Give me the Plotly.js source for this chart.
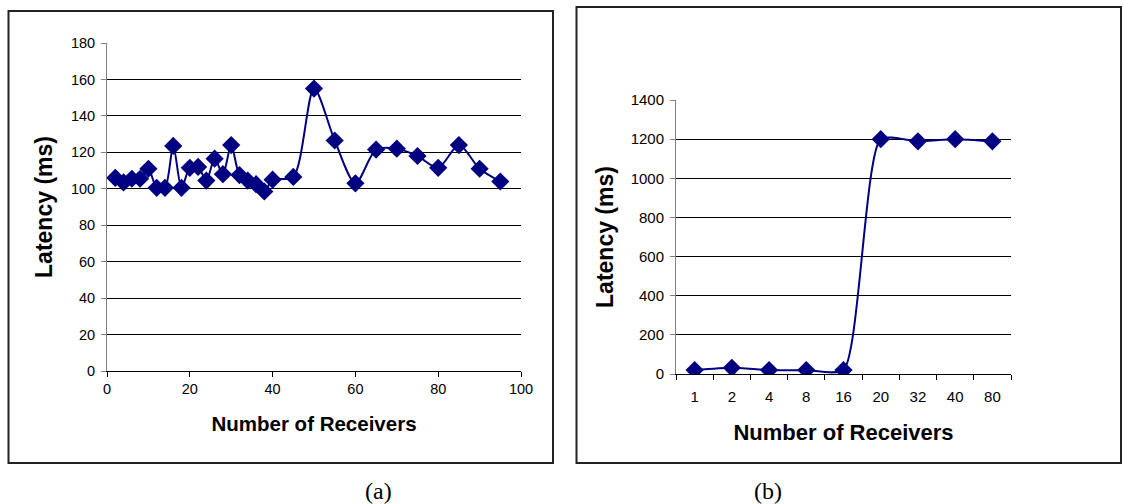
<!DOCTYPE html>
<html>
<head>
<meta charset="utf-8">
<script src="https://cdn.plot.ly/plotly-3.0.1.min.js"></script>
<style>
  html, body { margin: 0; padding: 0; background: #fff; }
  #chart { width: 1124px; height: 504px; }
</style>
</head>
<body>
<div id="chart"></div>
<script>
// Panel (a): latency vs number of receivers (numeric x)
const receiversA = [2, 4, 6, 8, 10, 12, 14, 16, 18, 20, 22, 24, 26, 28, 30, 32, 34, 36, 38, 40, 45, 50, 55, 60, 65, 70, 75, 80, 85, 90, 95];
const latencyA   = [106, 103.5, 105.5, 105.5, 111, 100.5, 100.5, 123.5, 100.5, 111.5, 112, 104.5, 116.5, 108, 124, 107.5, 104.5, 102.5, 98.5, 105, 106.5, 155, 126.5, 103, 121.5, 122, 118, 111.5, 124, 111, 104];

// Panel (b): latency vs number of receivers (category x)
const receiversB = ["1", "2", "4", "8", "16", "20", "32", "40", "80"];
const latencyB   = [20, 32, 20, 20, 20, 1200, 1189, 1200, 1189];

const W = 1124, H = 504;
const px = v => v / W;
const py = v => 1 - v / H;

const navy = "#000080";
const fam = "Liberation Sans, Arial, sans-serif";
const tickFontA = { family: fam, size: 14.5, color: "#000" };
const tickFontB = { family: fam, size: 15, color: "#000" };
const xTitleA = { family: fam, size: 20.5, color: "#000", weight: "bold" };
const xTitleB = { family: fam, size: 22, color: "#000", weight: "bold" };
const yTitle = { family: fam, size: 23, color: "#000", weight: "bold" };

const traces = [
  {
    x: receiversA, y: latencyA, xaxis: "x", yaxis: "y",
    type: "scatter", mode: "lines+markers",
    line: { color: navy, width: 2, shape: "spline", smoothing: 0.8 },
    marker: { symbol: "diamond", size: 14, color: navy },
    showlegend: false, hoverinfo: "x+y"
  },
  {
    x: receiversB, y: latencyB, xaxis: "x2", yaxis: "y2",
    type: "scatter", mode: "lines+markers",
    line: { color: navy, width: 2, shape: "spline", smoothing: 0.6 },
    marker: { symbol: "diamond", size: 14, color: navy },
    showlegend: false, hoverinfo: "x+y"
  }
];

const layout = {
  width: W, height: H,
  margin: { l: 0, r: 0, t: 0, b: 0 },
  paper_bgcolor: "#fff", plot_bgcolor: "#fff",
  showlegend: false,
  xaxis: {
    domain: [px(107), px(521)], anchor: "y",
    range: [0, 100], dtick: 20, tick0: 0,
    showgrid: false, zeroline: false,
    showline: true, linecolor: "#000", linewidth: 1,
    ticks: "outside", ticklen: 5, tickcolor: "#000",
    tickfont: tickFontA,
    title: { text: "Number of Receivers", font: xTitleA, standoff: 20 }
  },
  yaxis: {
    domain: [py(371), py(43)], anchor: "x",
    range: [0, 180], dtick: 20, tick0: 0,
    showgrid: true, gridcolor: "#000", gridwidth: 1,
    zeroline: false,
    showline: true, linecolor: "#808080", linewidth: 1,
    ticks: "outside", ticklen: 5, tickcolor: "#808080",
    ticklabelstandoff: 3,
    tickfont: tickFontA,
    title: { text: "Latency (ms)", font: yTitle, standoff: 11 }
  },
  xaxis2: {
    domain: [px(676), px(1011)], anchor: "y2",
    type: "category", range: [-0.5, 8.5],
    showgrid: false, zeroline: false,
    showline: true, linecolor: "#000", linewidth: 1,
    ticks: "outside", ticklen: 5, tickcolor: "#000", tickson: "boundaries",
    ticklabelstandoff: 9,
    tickfont: tickFontB,
    title: { text: "Number of Receivers", font: xTitleB, standoff: 20 }
  },
  yaxis2: {
    domain: [py(374), py(100)], anchor: "x2",
    range: [0, 1400], dtick: 200, tick0: 0,
    showgrid: true, gridcolor: "#000", gridwidth: 1,
    zeroline: false,
    showline: true, linecolor: "#808080", linewidth: 1,
    ticks: "outside", ticklen: 5, tickcolor: "#808080",
    ticklabelstandoff: 3,
    tickfont: tickFontB,
    title: { text: "Latency (ms)", font: yTitle, standoff: 10 }
  },
  shapes: [
    { type: "rect", xref: "paper", yref: "paper", x0: px(8.5), x1: px(553), y0: py(463), y1: py(11),
      line: { color: "#222", width: 2 }, fillcolor: "rgba(0,0,0,0)", layer: "below" },
    { type: "rect", xref: "paper", yref: "paper", x0: px(576.5), x1: px(1121), y0: py(463), y1: py(7),
      line: { color: "#222", width: 2 }, fillcolor: "rgba(0,0,0,0)", layer: "below" }
  ],
  annotations: [
    { text: "(a)", xref: "paper", yref: "paper", x: px(378), y: py(491), xanchor: "center", yanchor: "middle", showarrow: false,
      font: { family: "Liberation Serif, Times New Roman, serif", size: 24, color: "#000" } },
    { text: "(b)", xref: "paper", yref: "paper", x: px(768), y: py(491), xanchor: "center", yanchor: "middle", showarrow: false,
      font: { family: "Liberation Serif, Times New Roman, serif", size: 24, color: "#000" } }
  ]
};

Plotly.newPlot("chart", traces, layout, { displayModeBar: false, staticPlot: true });
</script>
</body>
</html>
